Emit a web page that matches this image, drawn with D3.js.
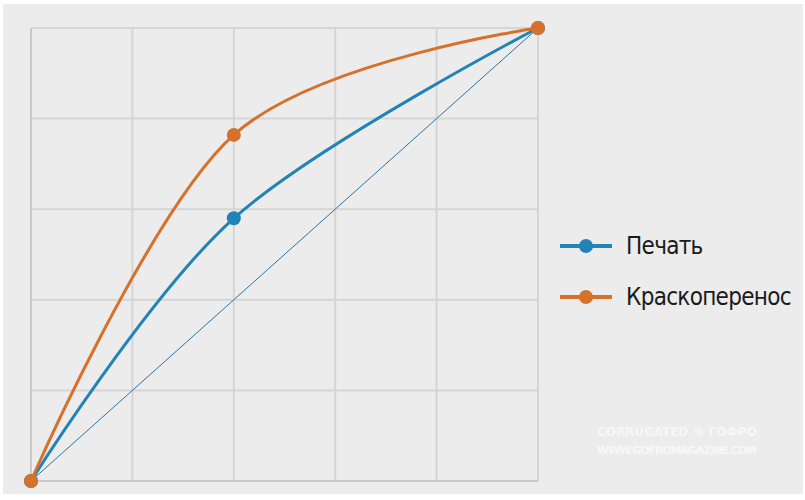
<!DOCTYPE html>
<html>
<head>
<meta charset="utf-8">
<style>
  body { margin: 0; background: #ffffff; }
  svg { display: block; }
</style>
<script src="https://cdn.jsdelivr.net/npm/d3@7"></script>
</head>
<body>
<svg id="chart"></svg>
<script>
// values (both axes 0..5, no tick labels shown)
const gridTicks = [0, 1, 2, 3, 4, 5];
const stages = [0, 2, 5];
const pechat = [0, 2.9, 5];
const kraskoperenos = [0, 3.82, 5];
const diagonal = [[0, 0], [5, 5]];
const seriesNames = ["Печать", "Краскоперенос"];
const seriesColors = ["#2183b6", "#d5712b"];

const width = 805, height = 500;
const margin = {left: 31, right: 267, top: 28, bottom: 19};

const svg = d3.select("#chart")
  .attr("width", width)
  .attr("height", height);

// grey panel
svg.append("rect")
  .attr("x", 3).attr("y", 4)
  .attr("width", 800).attr("height", 490)
  .attr("fill", "#ececec");

const x = d3.scaleLinear().domain([0, 5]).range([margin.left, width - margin.right]);
const y = d3.scaleLinear().domain([0, 5]).range([height - margin.bottom, margin.top]);

// grid
const grid = svg.append("g").attr("stroke", "#d5d5d5").attr("stroke-width", 2);
grid.selectAll(".v").data(gridTicks).enter().append("line")
  .attr("x1", d => x(d)).attr("x2", d => x(d))
  .attr("y1", y(0)).attr("y2", y(5));
grid.selectAll(".h").data(gridTicks).enter().append("line")
  .attr("x1", x(0)).attr("x2", x(5))
  .attr("y1", d => y(d)).attr("y2", d => y(d));

// axes (left and bottom a bit darker)
svg.append("line")
  .attr("x1", x(0)).attr("x2", x(0)).attr("y1", y(0)).attr("y2", y(5))
  .attr("stroke", "#c9c9c9").attr("stroke-width", 2);
svg.append("line")
  .attr("x1", x(0)).attr("x2", x(5)).attr("y1", y(0)).attr("y2", y(0))
  .attr("stroke", "#c9c9c9").attr("stroke-width", 2);

// watermark
const wm = svg.append("g")
  .attr("font-family", "DejaVu Sans")
  .attr("font-weight", "bold")
  .attr("fill", "#f7f7f7")
  .attr("text-anchor", "middle");
wm.append("text")
  .attr("x", 677).attr("y", 436)
  .attr("font-size", 12)
  .attr("textLength", 160)
  .text("CORRUGATED  ®  ГОФРО");
wm.append("text")
  .attr("x", 677).attr("y", 454)
  .attr("font-size", 11)
  .attr("textLength", 160)
  .text("WWW.GOFROMAGAZINE.COM");

// thin reference diagonal
svg.append("path")
  .datum(diagonal)
  .attr("d", d3.line().x(d => x(d[0])).y(d => y(d[1])))
  .attr("fill", "none")
  .attr("stroke", "#2a74a3")
  .attr("stroke-width", 1);

const line = d3.line()
  .x(d => x(d[0])).y(d => y(d[1]))
  .curve(d3.curveCardinal.tension(0));

const series = [pechat, kraskoperenos];
series.forEach(function(vals, i) {
  const pts = stages.map((s, j) => [s, vals[j]]);
  svg.append("path")
    .datum(pts)
    .attr("d", line)
    .attr("fill", "none")
    .attr("stroke", seriesColors[i])
    .attr("stroke-width", 3);
  svg.selectAll(".m" + i).data(pts).enter().append("circle")
    .attr("cx", d => x(d[0])).attr("cy", d => y(d[1]))
    .attr("r", 7)
    .attr("fill", seriesColors[i]);
});

// legend
const legend = svg.selectAll(".legend").data(seriesNames).enter().append("g")
  .attr("transform", (d, i) => "translate(560," + (246 + i * 51) + ")");
legend.append("line")
  .attr("x1", 0).attr("x2", 52)
  .attr("stroke", (d, i) => seriesColors[i])
  .attr("stroke-width", 4);
legend.append("circle")
  .attr("cx", 26).attr("r", 7)
  .attr("fill", (d, i) => seriesColors[i]);
legend.append("text")
  .attr("x", 66).attr("y", 8)
  .attr("font-family", "DejaVu Sans")
  .attr("font-stretch", "condensed")
  .attr("font-size", 24)
  .attr("letter-spacing", -0.7)
  .attr("fill", "#1a1a1a")
  .text(d => d);
</script>
</body>
</html>
